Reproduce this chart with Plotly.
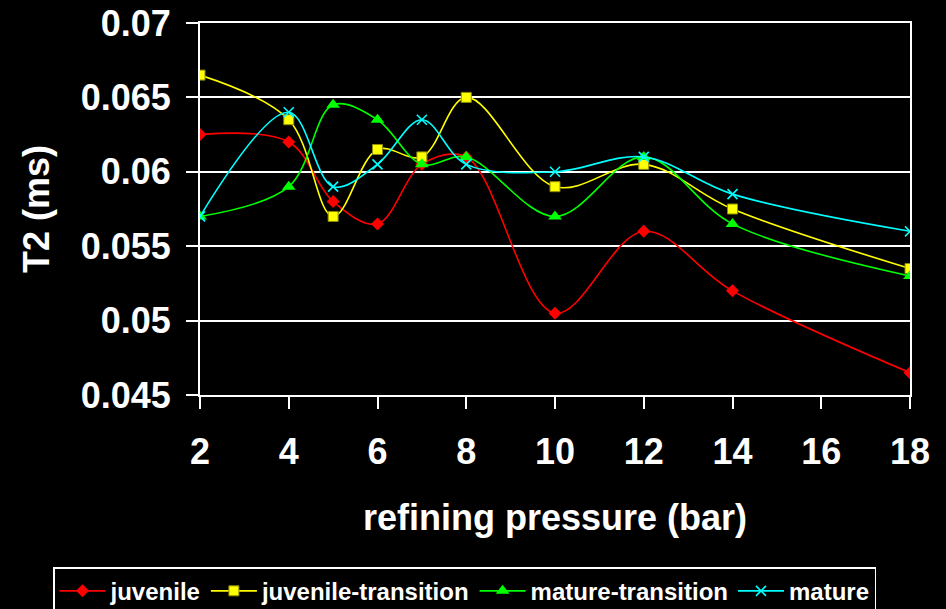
import plotly.graph_objects as go

# Refining pressure (bar) at which T2 was measured
pressure = [2, 4, 5, 6, 7, 8, 10, 12, 14, 18]

# T2 relaxation times (ms) per wood type
juvenile = [0.0625, 0.0620, 0.0580, 0.0565, 0.0605, 0.0610, 0.0505, 0.0560, 0.0520, 0.0465]
juvenile_transition = [0.0665, 0.0635, 0.0570, 0.0615, 0.0610, 0.0650, 0.0590, 0.0605, 0.0575, 0.0535]
mature_transition = [0.0570, 0.0590, 0.0645, 0.0635, 0.0605, 0.0610, 0.0570, 0.0610, 0.0565, 0.0530]
mature = [0.0570, 0.0640, 0.0590, 0.0605, 0.0635, 0.0605, 0.0600, 0.0610, 0.0585, 0.0560]

x_ticks = [2, 4, 6, 8, 10, 12, 14, 16, 18]
y_ticks = [0.045, 0.05, 0.055, 0.06, 0.065, 0.07]
y_tick_text = ["0.045", "0.05", "0.055", "0.06", "0.065", "0.07"]

FONT = "Liberation Sans, Arial, sans-serif"

series = [
    ("juvenile", juvenile, "#FF0000", dict(symbol="diamond", size=10, color="#FF0000")),
    ("juvenile-transition", juvenile_transition, "#FFFF00",
     dict(symbol="square", size=10, color="#FFFF00", line=dict(color="#8C8C00", width=1))),
    ("mature-transition", mature_transition, "#00FF00", dict(symbol="triangle-up", size=12, color="#00FF00")),
    ("mature", mature, "#00FFFF",
     dict(symbol="x-thin", size=10, color="#00FFFF", line=dict(color="#00FFFF", width=1.6))),
]

fig = go.Figure()
for name, values, color, marker in series:
    fig.add_trace(go.Scatter(
        x=pressure, y=values, name=name, mode="lines+markers",
        line=dict(color=color, width=1.6, shape="spline", smoothing=1.0),
        marker=marker,
    ))

axis_common = dict(
    showline=True, linecolor="white", linewidth=2, mirror=True,
    ticks="outside", tickcolor="white", ticklen=12, tickwidth=1.5,
    tickfont=dict(family=FONT, size=36, color="white", weight="bold"),
    zeroline=False, automargin=False,
)

fig.update_xaxes(
    range=[2, 18], tickvals=x_ticks, showgrid=False,
    ticklabelstandoff=12,
    title=dict(text="refining pressure (bar)", standoff=34,
               font=dict(family=FONT, size=36, color="white", weight="bold")),
    **axis_common,
)
fig.update_yaxes(
    range=[0.045, 0.07], tickvals=y_ticks, ticktext=y_tick_text,
    showgrid=True, gridcolor="white", gridwidth=1.5,
    ticklabelstandoff=8,
    title=dict(text="T2 (ms)", standoff=20,
               font=dict(family=FONT, size=36, color="white", weight="bold")),
    **axis_common,
)

fig.update_layout(
    width=946, height=609,
    paper_bgcolor="black", plot_bgcolor="black",
    margin=dict(l=200, r=36, t=23, b=214, autoexpand=False),
    legend=dict(
        orientation="h", x=-0.207, xanchor="left", y=-0.463, yanchor="top",
        bgcolor="black", bordercolor="white", borderwidth=1.5,
        font=dict(family=FONT, size=24, color="white", weight="bold"),
        itemwidth=46, tracegroupgap=0,
    ),
    showlegend=True,
)

fig.write_html("out.html")
